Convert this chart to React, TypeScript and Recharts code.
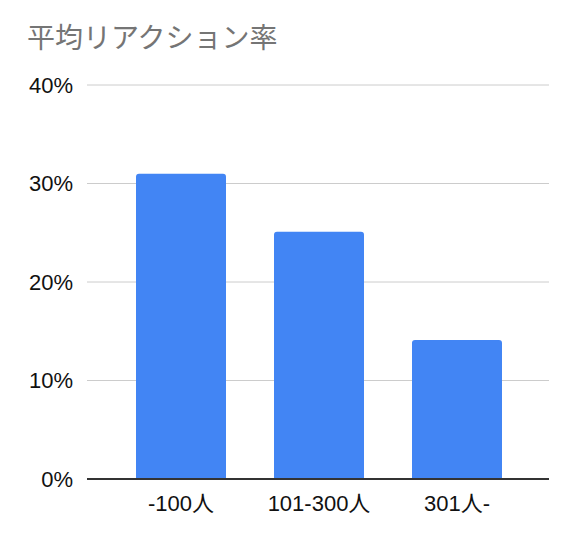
import { BarChart, Bar, XAxis, YAxis, CartesianGrid } from "recharts";

const categories = ["-100人", "101-300人", "301人-"];
const reactionRates = [31, 25.1, 14.1];
const yTicks = [0, 10, 20, 30, 40];

const chartData = categories.map((name, i) => ({ name, rate: reactionRates[i] }));

const FONT = "'Liberation Sans', Arial, 'Noto Sans CJK JP', sans-serif";

export default function App() {
  return (
    <div
      style={{
        position: "absolute",
        left: 0,
        top: 0,
        width: 576,
        height: 542,
        background: "#fff",
        fontFamily: FONT,
      }}
    >
      <div
        style={{
          position: "absolute",
          left: 27,
          top: 25,
          fontSize: 28,
          lineHeight: "28px",
          color: "#757575",
          whiteSpace: "nowrap",
        }}
      >
        平均リアクション率
      </div>
      <BarChart
        width={576}
        height={542}
        data={chartData}
        margin={{ top: 85, right: 27, left: 0, bottom: 33 }}
      >
        <CartesianGrid vertical={false} stroke="#cccccc" />
        <XAxis
          dataKey="name"
          height={30}
          padding={{ left: 25, right: 23 }}
          axisLine={{ stroke: "#333333", strokeWidth: 2 }}
          tickLine={false}
          tickMargin={10}
          tick={{ fill: "#111111", fontSize: 22, fontFamily: FONT }}
        />
        <YAxis
          width={87}
          domain={[0, 40]}
          ticks={yTicks}
          axisLine={false}
          tickLine={false}
          tickMargin={8}
          tickFormatter={(v) => `${v}%`}
          tick={{ fill: "#111111", fontSize: 22, fontFamily: FONT }}
        />
        <Bar
          dataKey="rate"
          fill="#4285f4"
          barSize={90}
          radius={[3, 3, 0, 0]}
          isAnimationActive={false}
        />
      </BarChart>
    </div>
  );
}
